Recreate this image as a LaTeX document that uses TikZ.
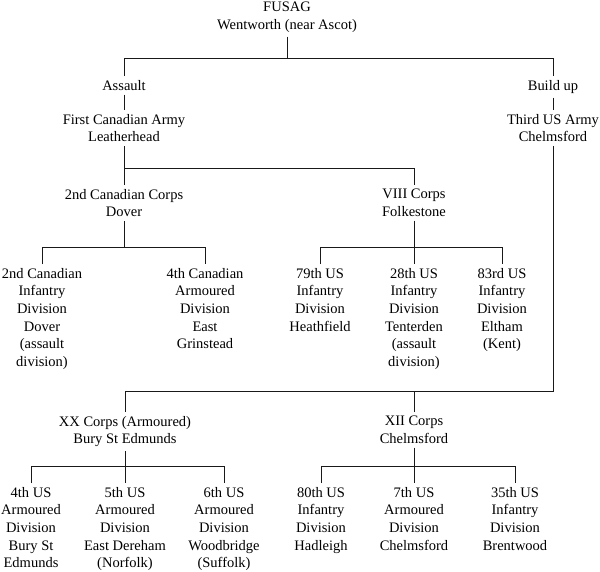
\documentclass[tikz,border=0pt]{standalone}
\usepackage{fontspec}
\setmainfont{Liberation Serif}
\usetikzlibrary{positioning}

\begin{document}
\begin{tikzpicture}[
  x=1pt, y=-1pt,
  font=\fontsize{14.5}{17.6}\selectfont,
  every node/.style={align=center},
  unit/.style ={anchor=north, inner xsep=2pt, inner ysep=4pt},
  link/.style ={draw=black!90, line width=0.7pt},
]
\useasboundingbox (0,0) rectangle (600,571);

% Army group and the two armies
\node[unit] (fusag)    at (287,-2)  {FUSAG\\Wentworth (near Ascot)};
\node[unit] (assault)  at (124,76)  {Assault};
\node[unit] (firstcan) at (124,110) {First Canadian Army\\Leatherhead};
\node[unit] (buildup)  at (553,76)  {Build up};
\node[unit] (thirdus)  at (553,110) {Third US Army\\Chelmsford};

% Corps of the assault army
\node[unit] (cancorps)  at (124,185) {2nd Canadian Corps\\Dover};
\node[unit] (viiicorps) at (414,185) {VIII Corps\\Folkestone};

% Divisions (first row)
\node[unit] (candiv2) at (42,264)  {2nd Canadian\\Infantry\\Division\\Dover\\(assault\\division)};
\node[unit] (candiv4) at (205,264) {4th Canadian\\Armoured\\Division\\East\\Grinstead};
\node[unit] (usdiv79) at (320,264) {79th US\\Infantry\\Division\\Heathfield};
\node[unit] (usdiv28) at (414,264) {28th US\\Infantry\\Division\\Tenterden\\(assault\\division)};
\node[unit] (usdiv83) at (502,264) {83rd US\\Infantry\\Division\\Eltham\\(Kent)};

% Corps of the build-up army
\node[unit] (xxcorps)  at (125,412) {XX Corps (Armoured)\\Bury St Edmunds};
\node[unit] (xiicorps) at (414,412) {XII Corps\\Chelmsford};

% Divisions (second row)
\node[unit] (usdiv4)  at (31,483)  {4th US\\Armoured\\Division\\Bury St\\Edmunds};
\node[unit] (usdiv5)  at (125,483) {5th US\\Armoured\\Division\\East Dereham\\(Norfolk)};
\node[unit] (usdiv6)  at (224,483) {6th US\\Armoured\\Division\\Woodbridge\\(Suffolk)};
\node[unit] (usdiv80) at (321,483) {80th US\\Infantry\\Division\\Hadleigh};
\node[unit] (usdiv7)  at (414,483) {7th US\\Armoured\\Division\\Chelmsford};
\node[unit] (usdiv35) at (515,483) {35th US\\Infantry\\Division\\Brentwood};

% levels of the horizontal bars
\coordinate (bartop)   at (0,58);
\coordinate (barcan)   at (0,168);
\coordinate (barcorps) at (0,247);
\coordinate (barbuild) at (0,391);
\coordinate (bardiv)   at (0,466);

% FUSAG -> armies
\draw[link] (fusag.south) -- (fusag.south |- bartop);
\draw[link] (assault.north) -- (assault.north |- bartop)
   -- (buildup.north |- bartop) -- (buildup.north);
\draw[link] (assault.south) -- (firstcan.north);
\draw[link] (buildup.south) -- (thirdus.north);

% First Canadian Army -> corps
\draw[link] (firstcan.south) -- (cancorps.north);
\draw[link] (cancorps.north |- barcan) -- (viiicorps.north |- barcan) -- (viiicorps.north);

% corps -> divisions
\draw[link] (cancorps.south) -- (cancorps.south |- barcorps);
\draw[link] (candiv2.north) -- (candiv2.north |- barcorps)
   -- (candiv4.north |- barcorps) -- (candiv4.north);
\draw[link] (viiicorps.south) -- (usdiv28.north);
\draw[link] (usdiv79.north) -- (usdiv79.north |- barcorps)
   -- (usdiv83.north |- barcorps) -- (usdiv83.north);

% Third US Army -> corps
\draw[link] (thirdus.south) -- (thirdus.south |- barbuild)
   -- (xxcorps.north |- barbuild) -- (xxcorps.north);
\draw[link] (xiicorps.north) -- (xiicorps.north |- barbuild);

% build-up corps -> divisions
\draw[link] (xxcorps.south) -- (usdiv5.north);
\draw[link] (usdiv4.north) -- (usdiv4.north |- bardiv)
   -- (usdiv6.north |- bardiv) -- (usdiv6.north);
\draw[link] (xiicorps.south) -- (usdiv7.north);
\draw[link] (usdiv80.north) -- (usdiv80.north |- bardiv)
   -- (usdiv35.north |- bardiv) -- (usdiv35.north);

\end{tikzpicture}
\end{document}
